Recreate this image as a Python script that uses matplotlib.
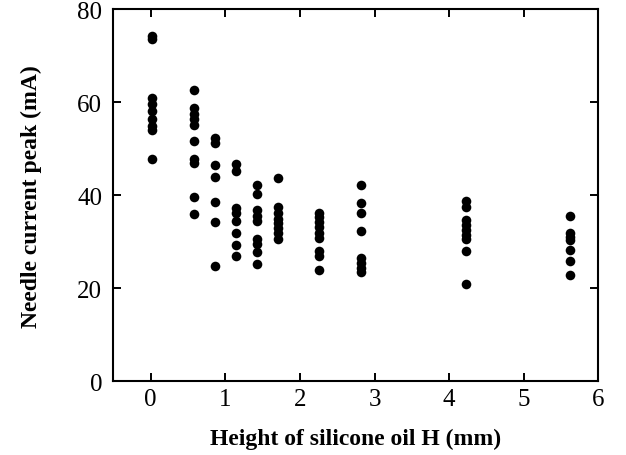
import numpy as np
import matplotlib
matplotlib.use("Agg")
import matplotlib.pyplot as plt

# oil heights (mm) and measured needle current peaks (mA), one list per height
heights = [0.0, 0.56, 0.84, 1.12, 1.40, 1.68, 2.24, 2.80, 4.20, 5.60]
peaks = [
    [74.3, 73.6, 61.0, 59.6, 58.1, 56.5, 55.0, 54.0, 47.8],
    [62.7, 58.7, 57.5, 56.4, 55.2, 51.6, 47.8, 46.9, 39.6, 36.0],
    [52.3, 51.3, 46.5, 43.9, 38.5, 34.3, 24.7],
    [46.8, 45.3, 37.2, 36.2, 34.5, 31.8, 29.3, 26.9],
    [42.3, 40.3, 36.9, 35.5, 34.5, 30.6, 29.5, 27.8, 25.2],
    [43.8, 37.5, 36.2, 35.0, 34.0, 33.0, 31.8, 30.6],
    [36.3, 35.3, 34.2, 33.1, 32.0, 30.8, 28.1, 26.9, 24.0],
    [42.3, 38.3, 36.2, 32.3, 26.5, 25.4, 24.3, 23.6],
    [38.7, 37.4, 34.7, 33.6, 32.5, 31.5, 30.5, 28.1, 20.9],
    [35.6, 32.0, 31.0, 30.3, 28.2, 25.9, 22.9],
]

xs = np.concatenate([[h] * len(p) for h, p in zip(heights, peaks)])
ys = np.concatenate(peaks)

plt.rcParams["font.family"] = ["Liberation Serif", "DejaVu Serif"]

fig = plt.figure(figsize=(6.26, 4.56), dpi=100)
ax = fig.add_axes([0.181, 0.1616, 0.775, 0.8158])

ax.scatter(xs + 0.02, ys, s=48, color="black", linewidths=0, zorder=3)

ax.set_xlim(-0.5, 6)
ax.set_ylim(0, 80)
ax.set_xticks(range(0, 7))
ax.set_yticks(range(0, 81, 20))
ax.tick_params(direction="in", length=6, width=1.4, labelsize=18,
               top=True, right=True)
ax.tick_params(axis="x", pad=5)
ax.tick_params(axis="y", pad=8)
for sp in ax.spines.values():
    sp.set_linewidth(1.5)

ax.set_xlabel("Height of silicone oil H (mm)", fontsize=17,
              fontweight="bold", labelpad=13)
ax.set_ylabel("Needle current peak (mA)", fontsize=17,
              fontweight="bold", labelpad=25)

fig.savefig("out.png", dpi=100)
